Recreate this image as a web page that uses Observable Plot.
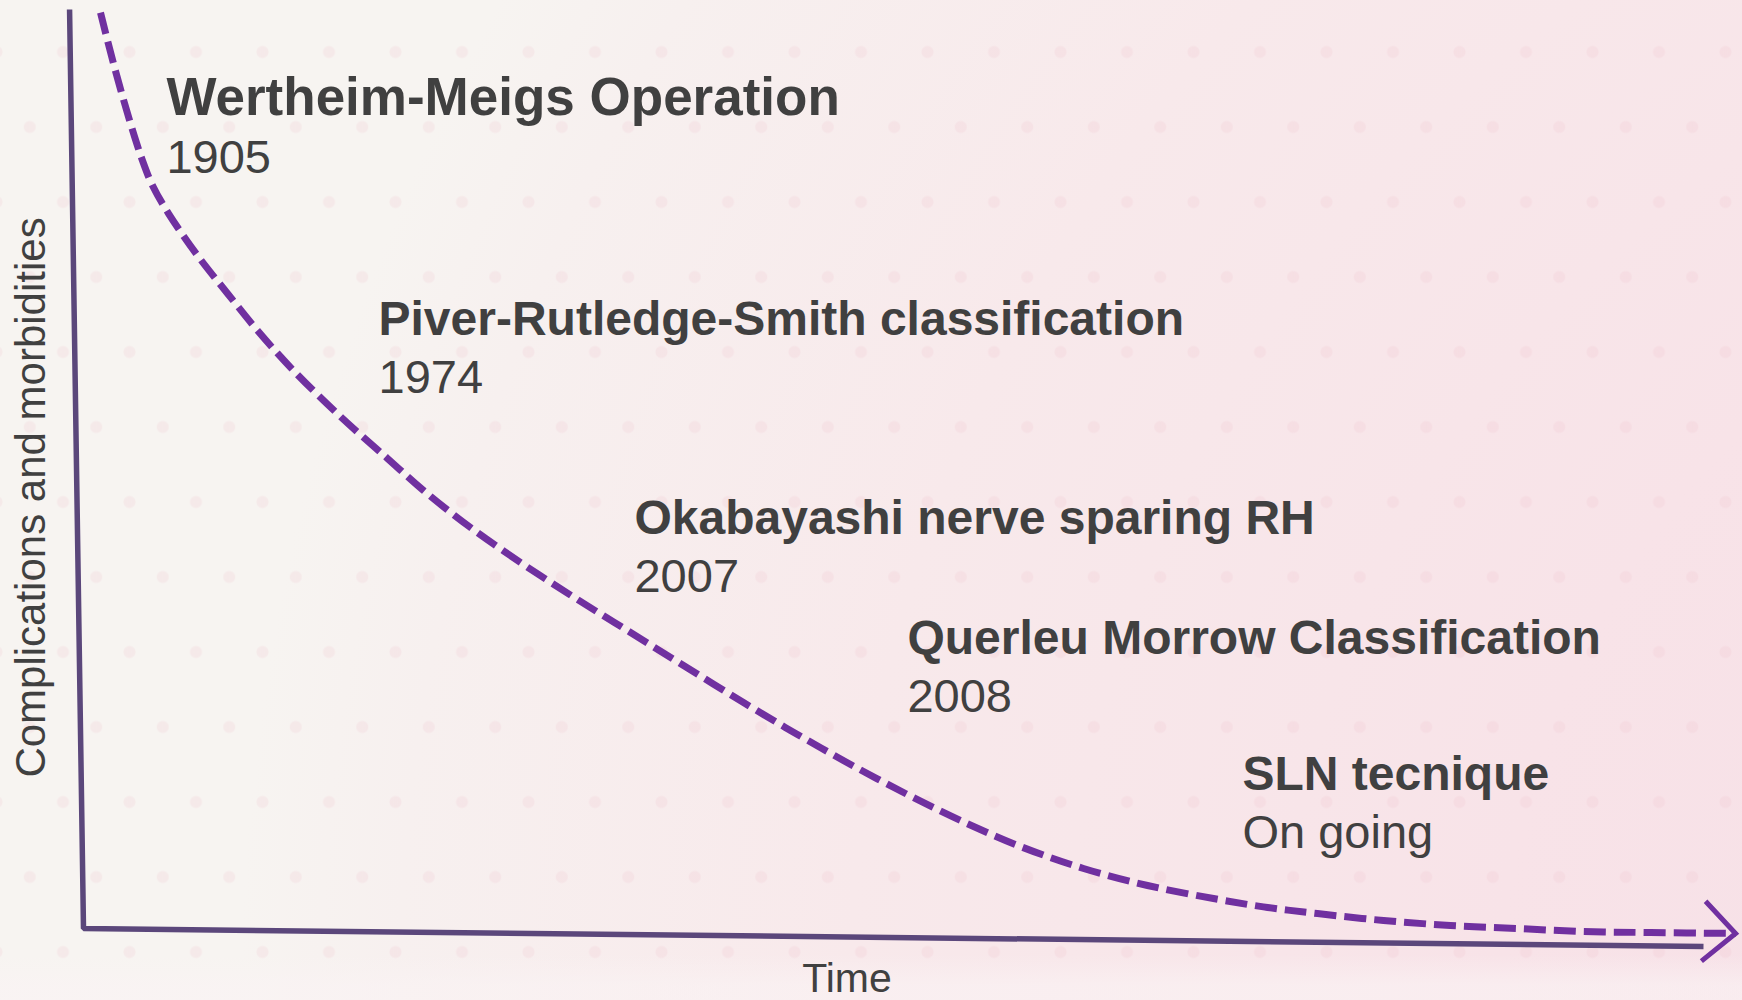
<!DOCTYPE html>
<html>
<head>
<meta charset="utf-8">
<script src="https://cdn.jsdelivr.net/npm/d3@7"></script>
<script src="https://cdn.jsdelivr.net/npm/@observablehq/plot@0.6"></script>
<style>
  html, body { margin: 0; padding: 0; }
  #wrap {
    width: 1742px; height: 1000px; position: relative; overflow: hidden;
    background:
      radial-gradient(circle at 33.25px 37.5px, rgba(236,186,198,0.18) 5.5px, rgba(236,186,198,0) 6.5px),
      radial-gradient(circle at 0px 112.5px, rgba(236,186,198,0.18) 5.5px, rgba(236,186,198,0) 6.5px),
      radial-gradient(circle at 66.5px 112.5px, rgba(236,186,198,0.18) 5.5px, rgba(236,186,198,0) 6.5px),
      linear-gradient(to bottom, rgba(250,243,244,0) 955px, rgba(250,243,244,0.6) 985px),
      radial-gradient(circle 2150px at 2300px 1000px, #f5dee6 0px, #f8e3e8 800px, #f8e9eb 1450px, #f7f0ef 1900px, #f7f4f1 2060px);
    background-size: 66.5px 150px, 66.5px 150px, 66.5px 150px, 100% 100%, 100% 100%;
    background-position: 29.75px 14.5px, 29.75px 14.5px, 29.75px 14.5px, 0 0, 0 0;
    background-repeat: repeat, repeat, repeat, no-repeat, no-repeat;
  }
</style>
</head>
<body>
<div id="wrap"></div>
<script>
// ---- Data (conceptual units: time 0–100, complications 0–100) ----
const curveTime = [1.05, 1.85, 2.90, 3.64, 4.26, 5.25, 7.04, 8.89, 10.74, 12.96, 15.86, 18.77, 20.99, 23.89, 27.16, 30.49, 33.77, 37.04, 40.74, 44.07, 47.35, 50.86, 54.14, 57.84, 61.73, 65.68, 69.75, 73.09, 76.17, 80.25, 84.38, 88.52, 92.59, 96.73, 101.98];
const curveLevel = [99.67, 94.12, 87.60, 83.57, 80.85, 77.80, 73.23, 69.10, 65.07, 60.72, 55.71, 51.14, 47.66, 43.63, 39.61, 35.80, 32.21, 28.62, 24.59, 21.11, 17.85, 14.58, 11.75, 8.92, 6.53, 4.68, 3.26, 2.29, 1.63, 0.87, 0.33, 0.00, -0.33, -0.44, -0.54];

const axisTime = [-0.86, 0, 100];
const axisLevel = [100, 0, -1.96];

const milestoneNames = [
  "Wertheim-Meigs Operation",
  "Piver-Rutledge-Smith classification",
  "Okabayashi nerve sparing RH",
  "Querleu Morrow Classification",
  "SLN tecnique"
];
const milestoneYears = ["1905", "1974", "2007", "2008", "On going"];
const milestoneTime = [5.12, 18.21, 34.01, 50.86, 71.54];
const milestoneLevel = [88.47, 64.53, 42.98, 29.92, 15.02];

const xTitle = "Time";
const yTitle = "Complications and morbidities";
const xTitleAt = [47.13, -6.95];
const yTitleAt = [-2.35, 46.9];

// ---- Build tables ----
const curve = curveTime.map((t, i) => ({t, v: curveLevel[i]}));
const axes = axisTime.map((t, i) => ({t, v: axisLevel[i]}));
const milestones = milestoneNames.map((name, i) => ({name, year: milestoneYears[i], t: milestoneTime[i], v: milestoneLevel[i], first: i === 0}));
const arrowTip = [curve[curve.length - 1]];

const purple = "#7030a0";
const axisColor = "#5b477b";
const textColor = "#404040";
const font = "'Liberation Sans', Arial, Helvetica, sans-serif";

// Open chevron arrowhead (tip at the anchor point)
const chevron = {
  draw(ctx) {
    const L = 44, a = Math.PI * 43 / 180, b = Math.PI + Math.PI * 4 / 180;
    ctx.moveTo(L * Math.cos(b - a), L * Math.sin(b - a));
    ctx.lineTo(0, 0);
    ctx.lineTo(L * Math.cos(b + a), L * Math.sin(b + a));
  }
};

const chart = Plot.plot({
  width: 1742,
  height: 1000,
  margin: 0,
  x: {domain: [0, 100], range: [83, 1703], axis: null},
  y: {domain: [0, 100], range: [928, 9], axis: null},
  style: {background: "transparent", overflow: "visible", fontFamily: font, color: textColor},
  marks: [
    Plot.line(axes, {x: "t", y: "v", stroke: axisColor, strokeWidth: 5.5, strokeLinejoin: "miter", strokeLinecap: "butt"}),
    Plot.line(curve, {x: "t", y: "v", stroke: purple, strokeWidth: 7, strokeDasharray: "22 8", curve: "catmull-rom", strokeLinecap: "butt"}),
    Plot.dot(arrowTip, {x: "t", y: "v", symbol: chevron, r: 10, fill: "none", stroke: purple, strokeWidth: 5, strokeLinejoin: "miter"}),
    Plot.text(milestones, {
      x: "t", y: "v", text: "name", textAnchor: "start", lineAnchor: "bottom",
      fontWeight: "bold", fontSize: d => d.first ? 53 : 48, fill: textColor
    }),
    Plot.text(milestones, {
      x: "t", y: "v", text: "year", dy: 58, textAnchor: "start", lineAnchor: "bottom",
      fontSize: 47, fill: textColor
    }),
    Plot.text([xTitle], {x: () => xTitleAt[0], y: () => xTitleAt[1], text: d => d, textAnchor: "middle", lineAnchor: "bottom", fontSize: 41, fill: textColor}),
    Plot.text([yTitle], {x: () => yTitleAt[0], y: () => yTitleAt[1], text: d => d, rotate: -90, textAnchor: "middle", lineAnchor: "bottom", fontSize: 42, fill: textColor})
  ]
});

document.getElementById("wrap").appendChild(chart);
</script>
</body>
</html>
